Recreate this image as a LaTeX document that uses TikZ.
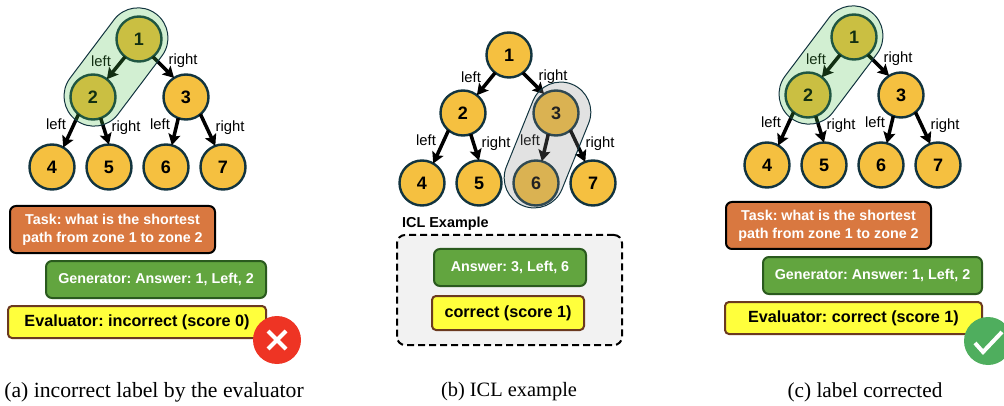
\documentclass[tikz,border=0pt]{standalone}
\usepackage{fontspec}
\setmainfont{Liberation Sans}
\newfontfamily\capfont{Liberation Serif}
\usetikzlibrary{arrows.meta}
\definecolor{nodefill}{HTML}{F5C040}
\definecolor{nodeedge}{HTML}{12343F}
\definecolor{orangebox}{HTML}{D97840}
\definecolor{greenbox}{HTML}{62A53F}
\definecolor{greenedge}{HTML}{2A5A1E}
\definecolor{yellowbox}{HTML}{FFFF3C}
\definecolor{yellowedge}{HTML}{6B3A20}
\definecolor{redicon}{HTML}{EE3424}
\definecolor{greenicon}{HTML}{4FAE5E}
\definecolor{hlgreen}{HTML}{4BBF4B}
\definecolor{hlgrey}{HTML}{8B8B8B}
\frenchspacing
\tikzset{
  tnode/.style={circle,draw=nodeedge,fill=nodefill,line width=2.4pt,minimum size=45pt,inner sep=0pt,outer sep=0pt,font=\fontsize{18}{18}\selectfont\bfseries},
  tedge/.style={line width=3.5pt,-{Stealth[length=11pt,width=12pt,inset=2pt]}},
  elabel/.style={inner sep=0pt,font=\fontsize{14.8}{15}\selectfont},
  boxbase/.style={rounded corners=6pt,line width=2pt,inner sep=0pt,font=\fontsize{14.3}{18}\selectfont\bfseries,align=center},
  taskbox/.style={boxbase,draw=black,fill=orangebox,text=white,minimum width=205pt,minimum height=47pt},
  genbox/.style={boxbase,draw=greenedge,fill=greenbox,text=white,minimum height=37pt},
  evalbox/.style={boxbase,rounded corners=4pt,draw=yellowedge,fill=yellowbox,text=black,minimum height=32pt,font=\fontsize{16.2}{18}\selectfont\bfseries},
  icon/.style={circle,minimum size=48pt,inner sep=0pt,outer sep=0pt},
  mark line/.style={draw=white,line width=4pt},
  hlg/.style={rectangle,rounded corners=30pt,inner sep=0pt,minimum height=60pt,draw=nodeedge,line width=1pt,fill=hlgreen,fill opacity=.25,text opacity=1},
  hlk/.style={rectangle,rounded corners=30pt,inner sep=0pt,minimum height=60pt,draw=nodeedge,line width=1pt,fill=hlgrey,fill opacity=.25,text opacity=1},
  caption/.style={inner sep=0pt,font=\capfont},
}
\newcommand{\drawtree}[3]{%
\begin{scope}[shift={(#2,#3)}]
  \node[tnode] (#1-1) at (139,39) {1};
  \node[tnode] (#1-2) at (93,97) {2};
  \node[tnode] (#1-3) at (186,97) {3};
  \node[tnode] (#1-4) at (52,167) {4};
  \node[tnode] (#1-5) at (109,167) {5};
  \node[tnode] (#1-6) at (166,167) {6};
  \node[tnode] (#1-7) at (223,167) {7};
  \draw[tedge] (#1-1.-128) -- (#1-2.52);
  \draw[tedge] (#1-1.-52) -- (#1-3.122);
  \draw[tedge] (#1-2.-130) -- (#1-4.60);
  \draw[tedge] (#1-2.-70) -- (#1-5.90);
  \draw[tedge] (#1-3.-110) -- (#1-6.75);
  \draw[tedge] (#1-3.-50) -- (#1-7.110);
  \node[elabel] (#1-l1) at (101,61) {left};
  \node[elabel] (#1-r1) at (183,61) {right};
  \node[elabel] (#1-l2) at (56,124) {left};
  \node[elabel] (#1-r2) at (126,128) {right};
  \node[elabel] (#1-l3) at (160,124) {left};
  \node[elabel] (#1-r3) at (230,128) {right};
\end{scope}}
\begin{document}
\begin{tikzpicture}[x=1pt,y=-1pt]
\useasboundingbox (0,0) rectangle (1004,406);
\clip (0,0) rectangle (1004,406);
% panel a
\drawtree{a}{0}{0}
\node[hlg,rotate=53,minimum width=133pt] (ahl) at (116,67) {};
\node[taskbox] (atask) at (112.5,229.5) {Task: what is the shortest\\path from zone 1 to zone 2};
\node[genbox,minimum width=220pt] (agen) at (156,279.5) {Generator: Answer: 1, Left, 2};
\node[evalbox,minimum width=258pt] (aeval) at (137,322) {Evaluator: incorrect (score 0)};
\node[icon,fill=redicon] (abad) at (277,340) {};
\draw[mark line] ([shift={(-9,-9)}]abad.center) -- ([shift={(9,9)}]abad.center);
\draw[mark line] ([shift={(-9,9)}]abad.center) -- ([shift={(9,-9)}]abad.center);
\node[caption] (acap) at (154,392) {\fontsize{21.7}{24}\selectfont (a) incorrect label by the evaluator};
% panel b
\drawtree{b}{370}{16}
\node[hlk,rotate=68,minimum width=131pt] (bhl) at (547.5,145) {};
\node[inner sep=0pt,anchor=west,font=\fontsize{14.4}{16}\selectfont\bfseries] (bicl) at (402,224) {ICL Example};
\node[rounded corners=8pt,draw=black,fill=black!5,dash pattern=on 7pt off 4pt,line width=2pt,minimum width=225pt,minimum height=110pt,inner sep=0pt] (bdash) at (509.5,290) {};
\node[genbox,minimum width=152pt] (bgen) at (510,267.5) {Answer: 3, Left, 6};
\node[evalbox,minimum width=152pt,minimum height=34pt] (beval) at (508,313) {correct (score 1)};
\node[caption] (bcap) at (509,392) {\fontsize{20.4}{24}\selectfont (b) ICL example};
% panel c
\drawtree{c}{715}{-2}
\node[hlg,rotate=53,minimum width=133pt] (chl) at (831,65) {};
\node[taskbox] (ctask) at (828.5,225.5) {Task: what is the shortest\\path from zone 1 to zone 2};
\node[genbox,minimum width=219pt] (cgen) at (872.5,275.5) {Generator: Answer: 1, Left, 2};
\node[evalbox,minimum width=257pt] (ceval) at (853.5,318) {Evaluator: correct (score 1)};
\node[icon,fill=greenicon] (cgood) at (988,341) {};
\draw[mark line,line join=miter] ([shift={(-13,2)}]cgood.center) -- ([shift={(-5,11)}]cgood.center) -- ([shift={(14,-9)}]cgood.center);
\node[caption] (ccap) at (865,392) {\fontsize{21.3}{24}\selectfont (c) label corrected};
\end{tikzpicture}
\end{document}
